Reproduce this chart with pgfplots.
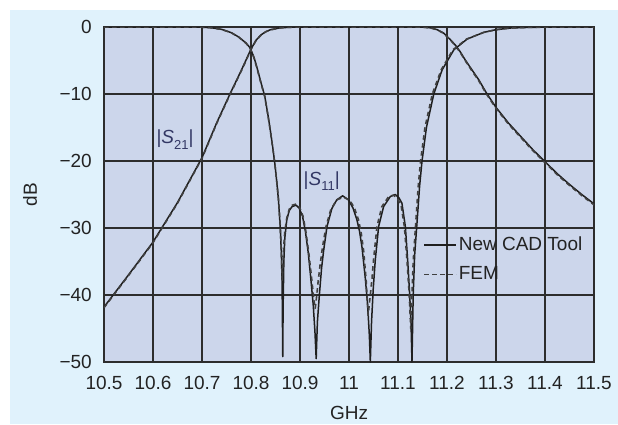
\documentclass[border=0pt]{standalone}
\usepackage{fontspec}
\setmainfont{Liberation Sans}
\usepackage{pgfplots}
\pgfplotsset{compat=1.18}
\definecolor{outerbg}{RGB}{224,242,252}
\definecolor{plotbg}{RGB}{204,214,235}
\definecolor{gridc}{RGB}{45,45,45}
\definecolor{txt}{RGB}{35,35,35}
\definecolor{slab}{RGB}{50,55,100}
\begin{document}
\fontsize{19bp}{22bp}\selectfont
\begin{tikzpicture}[x=1bp,y=1bp]
\fill[white] (0,0) rectangle (618,424);
\fill[outerbg] (10,0) rectangle (618,414);
\begin{axis}[
  at={(104bp,62bp)}, anchor=south west,
  scale only axis, width=490bp, height=335bp,
  xmin=10.5, xmax=11.5, ymin=-50, ymax=0,
  xtick={10.5,10.6,10.7,10.8,10.9,11,11.1,11.2,11.3,11.4,11.5},
  xticklabels={10.5,10.6,10.7,10.8,10.9,11,11.1,11.2,11.3,11.4,11.5},
  ytick={-50,-40,-30,-20,-10,0},
  yticklabels={−50,−40,−30,−20,−10,0\hspace{5.5bp}},
  grid=major, major grid style={draw=gridc, line width=1.5bp},
  axis line style={draw=gridc, line width=1.5bp},
  major tick length=0pt, tick style={draw=none},
  axis background/.style={fill=plotbg},
  xticklabel style={text=txt, inner sep=0pt, anchor=north, yshift=-14bp},
  yticklabel style={text=txt, inner sep=0pt, anchor=east, xshift=-12bp},
  xlabel={GHz}, ylabel={dB},
  xlabel style={at={(axis description cs:0.5,-0.153)}, anchor=center, text=txt},
  ylabel style={at={(axis description cs:-0.151,0.5)}, anchor=center, text=txt},
  legend style={draw=none, fill=none, at={(0.651,0.380)}, anchor=north west,
    inner sep=0pt, row sep=9bp, nodes={inner sep=2bp, text=txt}, cells={anchor=west}},
  legend image code/.code={\draw[#1] (0bp,0bp) -- (32bp,0bp);},
  every axis plot/.append style={line join=round},
]
% |S21| New CAD Tool
\addplot[draw=black!88, line width=1.5bp] coordinates {
(10.50,-41.8) (10.55,-37.0) (10.60,-32.1) (10.65,-26.2) (10.70,-19.5) (10.73,-14.3)
(10.757,-10.0) (10.78,-6.5) (10.79,-4.9) (10.80,-3.3) (10.81,-2.0) (10.82,-1.2)
(10.83,-0.7) (10.84,-0.4) (10.86,-0.12) (10.88,-0.04) (10.90,0) (11.12,0)
(11.15,-0.02) (11.166,-0.12) (11.18,-0.4) (11.193,-0.9) (11.207,-1.9) (11.217,-2.7)
(11.227,-3.7) (11.237,-4.9) (11.25,-6.3) (11.265,-7.9) (11.28,-9.8) (11.30,-12.0)
(11.325,-14.3) (11.35,-16.3) (11.375,-18.3) (11.40,-20.1) (11.425,-21.9) (11.45,-23.5)
(11.475,-25.0) (11.50,-26.4)};
\addlegendentry{New CAD Tool}
% |S21| FEM
\addplot[draw=black!75, line width=1.6bp, dash pattern=on 4.5bp off 3.5bp] coordinates {
(10.50,-41.9) (10.55,-37.1) (10.60,-32.2) (10.65,-26.3) (10.70,-19.6) (10.73,-14.4)
(10.757,-10.1) (10.78,-6.6) (10.79,-5.0) (10.80,-3.35) (10.81,-2.05) (10.82,-1.25)
(10.83,-0.72) (10.84,-0.42) (10.86,-0.13) (10.88,-0.04) (10.90,0) (11.12,0)
(11.15,-0.02) (11.166,-0.13) (11.18,-0.42) (11.193,-0.95) (11.207,-1.95) (11.217,-2.8)
(11.227,-3.8) (11.237,-5.0) (11.25,-6.45) (11.265,-8.05) (11.28,-9.95) (11.30,-12.15)
(11.325,-14.45) (11.35,-16.45) (11.375,-18.45) (11.40,-20.25) (11.425,-22.05) (11.45,-23.65)
(11.475,-25.15) (11.50,-26.55)};
\addlegendentry{FEM}
% |S11| New CAD Tool
\addplot[forget plot, draw=black!88, line width=1.5bp] coordinates {
(10.50,0) (10.68,0) (10.70,-0.03) (10.72,-0.12) (10.74,-0.35) (10.76,-0.85)
(10.775,-1.5) (10.79,-2.4) (10.798,-3.1) (10.806,-4.5) (10.812,-6.0) (10.82,-8.2)
(10.828,-10.3) (10.835,-13.3) (10.84,-15.7) (10.845,-18.3) (10.849,-20.6) (10.853,-23.4)
(10.856,-25.8) (10.8596,-29.8) (10.862,-33.8) (10.8635,-38.5) (10.8648,-49.2)
(10.8655,-42) (10.867,-35) (10.869,-31.5) (10.873,-28.8) (10.878,-27.4) (10.884,-26.8)
(10.892,-26.6) (10.898,-27.0) (10.905,-28.2) (10.911,-30.5) (10.917,-33.8) (10.922,-37.5)
(10.927,-41.5) (10.9305,-45.5) (10.933,-49.5) (10.9355,-44) (10.9395,-40) (10.944,-36)
(10.948,-33.5) (10.955,-29.8) (10.965,-27.1) (10.975,-25.8) (10.987,-25.2) (10.999,-25.8)
(11.008,-27.0) (11.0162,-28.8) (11.0215,-30.5) (11.0264,-32.8) (11.033,-37.3) (11.038,-41.5)
(11.0415,-46) (11.0435,-50) (11.046,-44) (11.0495,-39) (11.0536,-34.8) (11.0604,-29.8)
(11.0706,-26.8) (11.0843,-25.3) (11.0945,-25.0) (11.102,-25.5) (11.108,-26.3) (11.115,-29.8)
(11.1197,-34.8) (11.1237,-39.8) (11.1265,-44) (11.1285,-50) (11.131,-40) (11.134,-34)
(11.139,-29) (11.144,-23.8) (11.149,-20) (11.158,-15) (11.173,-10) (11.19,-6.4)
(11.214,-3.4) (11.241,-1.8) (11.275,-0.8) (11.30,-0.4) (11.33,-0.15) (11.37,-0.05)
(11.42,0) (11.50,0)};
% |S11| FEM
\addplot[forget plot, draw=black!75, line width=1.6bp, dash pattern=on 4.5bp off 3.5bp] coordinates {
(10.50,0) (10.68,0) (10.70,-0.03) (10.72,-0.12) (10.74,-0.36) (10.76,-0.87)
(10.775,-1.52) (10.79,-2.45) (10.798,-3.15) (10.806,-4.6) (10.812,-6.1) (10.82,-8.3)
(10.828,-10.4) (10.835,-13.4) (10.84,-15.8) (10.845,-18.4) (10.849,-20.7) (10.853,-23.4)
(10.856,-25.6) (10.8596,-29.5) (10.862,-33.5) (10.8635,-37.8) (10.865,-35.5)
(10.867,-32.5) (10.869,-30.5) (10.873,-28.5) (10.878,-27.2) (10.884,-26.6)
(10.893,-26.4) (10.899,-26.9) (10.906,-28.2) (10.912,-30.5) (10.918,-33.8) (10.923,-37.0)
(10.928,-40.5) (10.931,-42) (10.9335,-40.5) (10.937,-38) (10.941,-35.5) (10.946,-32.8)
(10.953,-29.8) (10.963,-27.2) (10.975,-25.8) (10.989,-25.4) (11.002,-25.9) (11.011,-27.0)
(11.0195,-28.8) (11.025,-30.8) (11.030,-33.5) (11.035,-37.8) (11.039,-43) (11.0435,-40)
(11.047,-37.5) (11.050,-34.8) (11.057,-29.8) (11.067,-26.8) (11.081,-25.3) (11.091,-25.1)
(11.099,-25.6) (11.106,-26.5) (11.113,-29.8) (11.118,-34.5) (11.1225,-39.5) (11.126,-45)
(11.1285,-40) (11.131,-35) (11.1355,-30) (11.141,-24) (11.146,-20) (11.155,-15)
(11.170,-10) (11.188,-6.4) (11.212,-3.4) (11.24,-1.8) (11.275,-0.8) (11.30,-0.4)
(11.33,-0.15) (11.37,-0.05) (11.42,0) (11.50,0)};
\node[text=slab, inner sep=0pt] at (axis cs:10.645,-16.8) {|\textit{S}\raisebox{-0.3em}{\fontsize{13bp}{15bp}\selectfont 21}|};
\node[text=slab, inner sep=0pt] at (axis cs:10.9443,-23.0) {|\textit{S}\raisebox{-0.3em}{\fontsize{13bp}{15bp}\selectfont 11}|};
\end{axis}
\pgfresetboundingbox
\useasboundingbox (0,0) rectangle (618,424);
\end{tikzpicture}
\end{document}
